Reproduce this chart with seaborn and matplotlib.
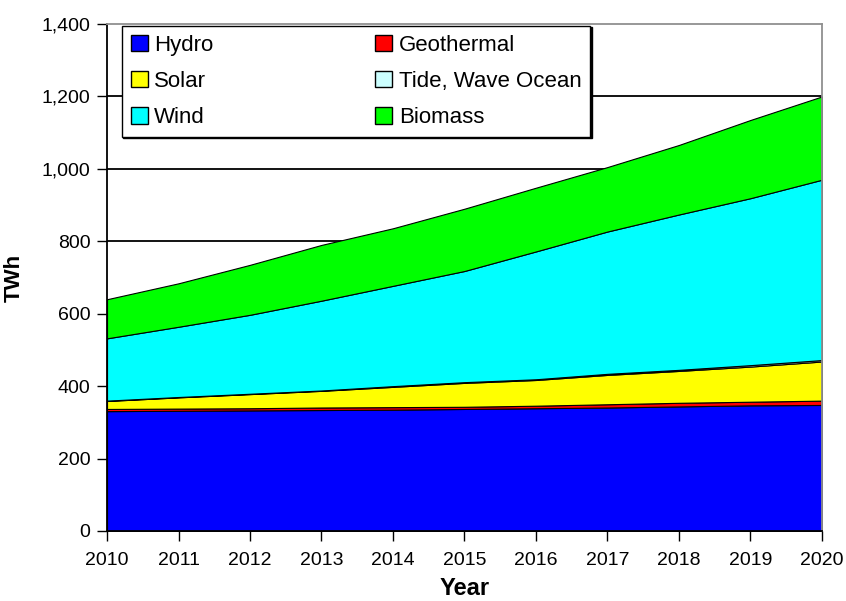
import matplotlib
matplotlib.use("Agg")
import matplotlib.pyplot as plt
from matplotlib.patches import Patch
import seaborn as sns
import pandas as pd

sns.set_style("white")
plt.rcParams['font.family'] = ['Liberation Sans', 'DejaVu Sans']
plt.rcParams['text.color'] = 'black'
plt.rcParams['axes.labelcolor'] = 'black'
plt.rcParams['xtick.color'] = 'black'
plt.rcParams['ytick.color'] = 'black'

# data (TWh)
years = [2010, 2011, 2012, 2013, 2014, 2015, 2016, 2017, 2018, 2019, 2020]
hydro = [331, 332, 333, 334, 335, 337, 339, 341, 344, 347, 348]
geothermal = [6, 6, 6, 7, 7, 6, 7, 9, 10, 10, 12]
solar = [22, 31, 39, 46, 56, 66, 71, 81, 88, 97, 108]
tide = [1, 1, 1, 1, 2, 2, 2, 3, 3, 4, 4]
wind = [172, 194, 218, 248, 277, 307, 353, 393, 429, 461, 498]
biomass = [108, 120, 138, 154, 159, 172, 176, 178, 192, 216, 230]

series_names = ["Hydro", "Geothermal", "Solar", "Tide, Wave Ocean", "Wind", "Biomass"]
colors = ["#0000FF", "#FF0000", "#FFFF00", "#CCFFFF", "#00FFFF", "#00FF00"]

y_ticks = [0, 200, 400, 600, 800, 1000, 1200, 1400]
y_labels = ["0", "200", "400", "600", "800", "1,000", "1,200", "1,400"]

df = pd.DataFrame({"Year": years, "Hydro": hydro, "Geothermal": geothermal,
                   "Solar": solar, "Tide, Wave Ocean": tide, "Wind": wind,
                   "Biomass": biomass})

fig = plt.figure(figsize=(8.46, 6.01), dpi=100)
ax = fig.add_axes([0.1265, 0.1165, 0.845, 0.8435])

# horizontal gridlines behind the areas
for t in y_ticks[1:-1]:
    ax.axhline(t, color="black", lw=1.3, zorder=0)

ax.stackplot(df["Year"], [df[n] for n in series_names], colors=colors,
             edgecolor="black", linewidth=0.8, zorder=2)

ax.set_xlim(2010, 2020)
ax.set_ylim(0, 1400)
ax.set_xticks(years)
ax.set_xticklabels([str(y) for y in years], fontsize=14)
ax.set_yticks(y_ticks)
ax.set_yticklabels(y_labels, fontsize=14)
ax.tick_params(axis="both", direction="out", length=7, width=1, color="black",
               bottom=True, left=True, pad=5)
ax.tick_params(axis="x", pad=8)

for side in ["left", "bottom"]:
    ax.spines[side].set_color("black")
    ax.spines[side].set_linewidth(1.3)
for side in ["top", "right"]:
    ax.spines[side].set_color("#909090")
    ax.spines[side].set_linewidth(1.3)

ax.set_xlabel("Year", fontsize=17, fontweight="heavy", labelpad=6)
ax.set_ylabel("TWh", fontsize=16, fontweight="heavy", labelpad=12)

# legend filled row-wise like the original
order = ["Hydro", "Solar", "Wind", "Geothermal", "Tide, Wave Ocean", "Biomass"]
handles = [Patch(facecolor=colors[series_names.index(n)], edgecolor="black",
                 linewidth=1) for n in order]
leg = ax.legend(handles, order, ncol=2, loc="upper left",
                bbox_to_anchor=(0.021, 0.787, 0.655, 0.209), mode="expand",
                borderaxespad=0, fontsize=16, frameon=True, fancybox=False,
                handlelength=0.75, handleheight=0.75, handletextpad=0.3,
                labelspacing=0.68, borderpad=0.4,
                shadow={"ox": 1, "oy": -1, "color": "black", "alpha": 1})
leg.get_frame().set_edgecolor("black")
leg.get_frame().set_linewidth(1)
leg.set_zorder(5)

fig.savefig("out.png", dpi=100)
